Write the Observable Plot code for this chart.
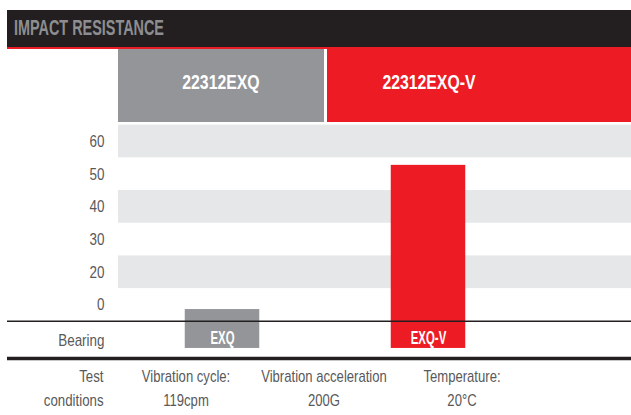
<!DOCTYPE html>
<html>
<head>
<meta charset="utf-8">
<script src="https://cdn.jsdelivr.net/npm/d3@7"></script>
<script src="https://cdn.jsdelivr.net/npm/@observablehq/plot@0.6"></script>
<style>
  body { margin:0; background:#fff; width:631px; height:415px; overflow:hidden; position:relative;
         font-family:"Liberation Sans",Arial,sans-serif; }
  #title { position:absolute; left:7px; top:10px; width:624px; height:37px; background:#231f20; border-bottom:2px solid #ed1c24; }
  #title span { position:absolute; left:7px; top:7px; line-height:22px; font-size:22px; font-weight:bold;
                color:#8d8e91; transform:scaleX(0.655); transform-origin:left center; white-space:nowrap; }
  .hbox { position:absolute; top:49px; height:73px; color:#fff; font-weight:bold; font-size:20px;
          display:flex; align-items:center; justify-content:center; padding-bottom:6px; box-sizing:border-box; }
  .hbox span { display:inline-block; transform:scaleX(0.79); transform-origin:center; white-space:nowrap; }
  #chart { position:absolute; left:0; top:122px; }
  .cond { position:absolute; top:365px; font-size:17px; line-height:24px; color:#58595b; white-space:nowrap; }
</style>
</head>
<body>
<div id="title"><span></span></div>
<div id="chart"></div>
<script>
const titleText = "IMPACT RESISTANCE";
const bearings = ["EXQ", "EXQ-V"];
const models = ["22312EXQ", "22312EXQ-V"];
const impact = [8.6, 52.7];
const barColors = ["#939598", "#ed1c24"];
const tickValues = [60, 50, 40, 30, 20, 10];
const tickLabels = ["60", "50", "40", "30", "20", "0"];
const stripeTops = [65, 45, 25];
const rowLabel = "Bearing";
const conditionHeader = ["Test", "conditions"];
const conditionNames = ["Vibration cycle:", "Vibration acceleration", "Temperature:"];
const conditionValues = ["119cpm", "200G", "20°C"];

// layout constants (in y-scale units)
const stripeHeight = 10;
const baselineY = 5, barBaseY = -3.3, floorY = -6.4, barLabelY = 0, rowLabelY = -0.8;

const data = bearings.map((b, i) => ({bearing: b, model: models[i], value: impact[i]}));

const plot = Plot.plot({
  width: 631, height: 240,
  marginLeft: 118, marginRight: 0, marginTop: 2.65, marginBottom: 1.3,
  x: {type: "band", domain: bearings, range: [118, 531], padding: 0, axis: null},
  y: {domain: [-7.2, 65], axis: null},
  color: {domain: bearings, range: barColors},
  style: {fontFamily: '"Liberation Sans",Arial,sans-serif', background: "transparent", overflow: "visible"},
  marks: [
    Plot.rect(stripeTops, {y1: d => d, y2: d => d - stripeHeight, fill: "#e6e7e8"}),
    Plot.axisY({ticks: tickValues, tickFormat: d => tickLabels[tickValues.indexOf(d)], tickSize: 0, tickPadding: 14,
                fontSize: 17, fill: "#58595b", stroke: "none", label: null}),
    Plot.barY(data, {x: "bearing", y1: barBaseY, y2: "value", fill: "bearing", insetLeft: 65.75, insetRight: 65.75}),
    Plot.ruleY([baselineY], {stroke: "#231f20", strokeWidth: 1.5, insetLeft: -111}),
    Plot.ruleY([floorY], {stroke: "#231f20", strokeWidth: 3.5, insetLeft: -111}),
    Plot.text(data, {x: "bearing", y: barLabelY, text: "bearing", fill: "white", fontWeight: "bold", fontSize: 19}),
    Plot.text([rowLabel], {frameAnchor: "left", y: rowLabelY, text: d => d, textAnchor: "end", dx: -14, fill: "#58595b", fontSize: 17})
  ]
});

document.getElementById("chart").appendChild(plot);

// condense svg texts horizontally (narrow font look)
d3.select(plot).selectAll("text").each(function() {
  const s = bearings.includes(this.textContent) ? 0.6 : 0.79;
  const w = this.getComputedTextLength();
  if (w > 0) {
    this.setAttribute("textLength", w * s);
    this.setAttribute("lengthAdjust", "spacingAndGlyphs");
  }
});

document.querySelector("#title span").textContent = titleText;

// header boxes aligned to the x band scale
const xs = plot.scale("x");
const step = (xs.range[1] - xs.range[0]) / bearings.length;
bearings.forEach((b, i) => {
  const left = xs.range[0] + i * step + (i > 0 ? 2 : 0);
  const bandRight = xs.range[0] + (i + 1) * step;
  const right = i === bearings.length - 1 ? 631 : bandRight - 0.5;
  const div = document.createElement("div");
  div.className = "hbox";
  div.style.left = left + "px";
  div.style.width = (right - left) + "px";
  div.style.background = barColors[i];
  if (i === bearings.length - 1) div.style.paddingRight = (631 - bandRight) + "px";
  const sp = document.createElement("span");
  sp.textContent = models[i];
  div.appendChild(sp);
  document.body.appendChild(div);
});

// test conditions row
const head = document.createElement("div");
head.className = "cond";
head.style.right = (631 - 104) + "px";
head.style.textAlign = "right";
head.style.transform = "scaleX(0.78)";
head.style.transformOrigin = "right center";
head.innerHTML = conditionHeader.join("<br>");
document.body.appendChild(head);
const centers = [186, 324, 462];
conditionNames.forEach((n, i) => {
  const d = document.createElement("div");
  d.className = "cond";
  d.style.left = (centers[i] - 100) + "px";
  d.style.width = "200px";
  d.style.textAlign = "center";
  d.style.transform = "scaleX(0.77)";
  d.style.transformOrigin = "center center";
  d.innerHTML = n + "<br>" + conditionValues[i];
  document.body.appendChild(d);
});
</script>
</body>
</html>
